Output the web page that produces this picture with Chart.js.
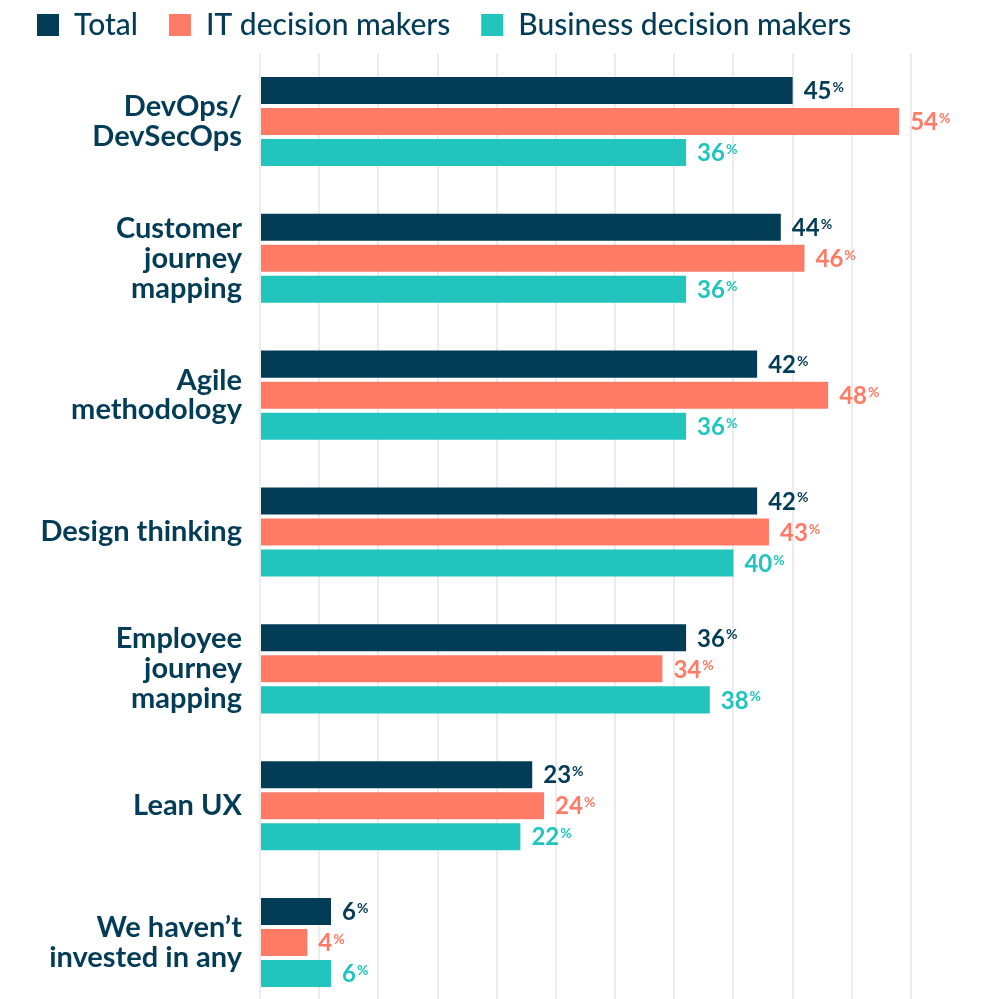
<!DOCTYPE html>
<html>
<head>
<meta charset="utf-8">
<script src="https://cdn.jsdelivr.net/npm/chart.js@4.4.1/dist/chart.umd.min.js"></script>
<style>
  html, body { margin: 0; padding: 0; background: #ffffff; overflow: hidden; }
  canvas { display: block; }
</style>
</head>
<body>
<canvas id="c" width="989" height="1011" style="width:989px;height:1011px"></canvas>
<script>
const categories = [
  ["DevOps/", "DevSecOps"],
  ["Customer", "journey", "mapping"],
  ["Agile", "methodology"],
  "Design thinking",
  ["Employee", "journey", "mapping"],
  "Lean UX",
  ["We haven\u2019t", "invested in any"]
];
const seriesNames = ["Total", "IT decision makers", "Business decision makers"];
const totalValues = [45, 44, 42, 42, 36, 23, 6];
const itValues = [54, 46, 48, 43, 34, 24, 4];
const businessValues = [36, 36, 36, 40, 38, 22, 6];
const seriesColors = ["#033c57", "#ff7b66", "#22c5bd"];
const xTickValues = [0, 5, 10, 15, 20, 25, 30, 35, 40, 45, 50, 55];

const FONT = "Lato, 'Noto Sans', sans-serif";
const NAVY = "#033c57";
const LEGEND_PAD = 31;

const legendPlugin = {
  id: 'legendPlace',
  beforeInit(chart) {
    const orig = chart.legend.fit;
    chart.legend.fit = function () {
      orig.call(this);
      this.height = 53;
    };
  },
  afterLayout(chart) {
    chart.legend.left = 37 - LEGEND_PAD;
    chart.legend.top = 10 - LEGEND_PAD;
  }
};

const valueLabelPlugin = {
  id: 'valueLabels',
  afterDatasetsDraw(chart) {
    const ctx = chart.ctx;
    chart.data.datasets.forEach((ds, di) => {
      const meta = chart.getDatasetMeta(di);
      meta.data.forEach((bar, i) => {
        const v = ds.data[i];
        const x = bar.x + 11;
        const y = bar.y;
        ctx.save();
        ctx.fillStyle = ds.backgroundColor;
        ctx.font = "bold 24px " + FONT;
        ctx.textAlign = 'left';
        ctx.textBaseline = 'middle';
        const txt = String(v);
        ctx.fillText(txt, x, y + 1);
        const w = ctx.measureText(txt).width;
        ctx.font = "bold 14px " + FONT;
        ctx.textBaseline = 'top';
        ctx.fillText('%', x + w + 1, y - 10);
        ctx.restore();
      });
    });
  }
};

new Chart(document.getElementById('c'), {
  type: 'bar',
  data: {
    labels: categories,
    datasets: [
      { label: seriesNames[0], data: totalValues, backgroundColor: seriesColors[0] },
      { label: seriesNames[1], data: itValues, backgroundColor: seriesColors[1] },
      { label: seriesNames[2], data: businessValues, backgroundColor: seriesColors[2] }
    ]
  },
  options: {
    indexAxis: 'y',
    responsive: false,
    maintainAspectRatio: false,
    animation: false,
    devicePixelRatio: 1,
    categoryPercentage: 0.68,
    barPercentage: 0.871,
    layout: { padding: { left: 37, right: 78, top: 0, bottom: 0 } },
    plugins: {
      legend: {
        position: 'top',
        align: 'start',
        labels: {
          boxWidth: 22,
          boxHeight: 22,
          padding: LEGEND_PAD,
          color: NAVY,
          font: { family: FONT, size: 30, weight: '500' }
        }
      },
      tooltip: { enabled: false }
    },
    scales: {
      x: {
        min: 0,
        max: 55,
        afterBuildTicks(scale) { scale.ticks = xTickValues.map(v => ({ value: v })); },
        afterFit(scale) { scale.paddingLeft = 0; scale.paddingRight = 0; scale.height = 0; },
        ticks: { display: false },
        grid: { color: '#ececec', lineWidth: 2, drawTicks: false },
        border: { display: false }
      },
      y: {
        afterFit(scale) { scale.width = 223; scale.paddingTop = 0; scale.paddingBottom = 0; },
        grid: { display: false, drawTicks: false },
        border: { display: false },
        ticks: {
          padding: 18,
          color: NAVY,
          font: { family: FONT, size: 29, weight: 'bold', lineHeight: 1.03 }
        }
      }
    }
  },
  plugins: [legendPlugin, valueLabelPlugin]
});
</script>
</body>
</html>
